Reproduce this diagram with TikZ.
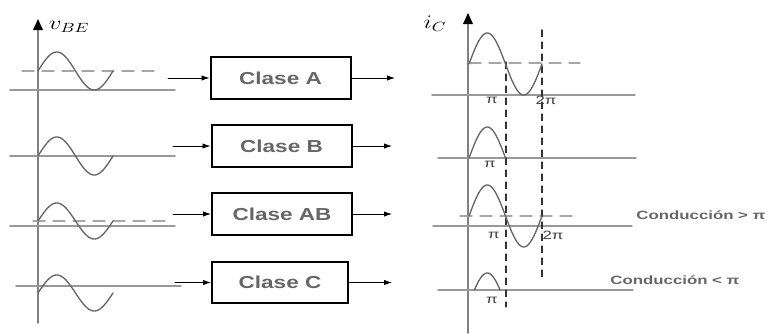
\documentclass[tikz,border=0pt]{standalone}
\usepackage{fontspec}
\setmainfont{Liberation Sans}
\newfontfamily\clasefont[FakeStretch=1.3]{Liberation Sans Bold}
\newfontfamily\condfont[FakeStretch=1.4]{Liberation Sans Bold}
\newfontfamily\pifont[FakeStretch=1.4]{Liberation Sans}
\usetikzlibrary{arrows.meta}
\tikzset{
	clase/.style={draw=black,line width=1.5pt,minimum width=105pt,minimum height=31pt,inner sep=0pt,font=\clasefont\fontsize{13}{15}\selectfont,text=black!60},
	eje/.style={draw=black!50,line width=1.1pt},
	linea/.style={draw=black!40,line width=1.1pt},
	seno/.style={draw=black!60,line width=1pt,smooth,samples=60,variable=\x},
	nivel/.style={draw=black!35,line width=1pt,dash pattern=on 9pt off 6pt},
	marca/.style={draw=black!80,line width=0.9pt,dash pattern=on 5pt off 4pt},
	flecha/.style={draw=black,line width=0.6pt,-{Latex[length=6pt,width=4pt]}},
	punta/.style={fill=black},
	pilab/.style={font=\pifont\fontsize{9}{10}\selectfont,text=black!75,inner sep=0pt},
	cond/.style={font=\condfont\fontsize{9}{10}\selectfont,text=black!60,inner sep=0pt}
}
\begin{document}
\begin{tikzpicture}[line cap=round,>=stealth,x=0.75pt,y=-0.75pt]
	\useasboundingbox (0,0) rectangle (767,333);
	% entrada v_BE
	\coordinate (e0) at (38,323);
	\coordinate (e1) at (38,28);
	\draw[eje] (e0) -- (e1);
	\fill[punta] (38,19) -- (33,30) -- (43,30) -- cycle;
	\node (vbe) at (69,27) {\scalebox{1.3}[1]{\fontsize{14}{16}\selectfont$v_{BE}$}};
	\draw[linea] (10,90)--(175,90) (10,156)--(175,156) (10,226)--(175,226) (16,286)--(181,286);
	\draw[nivel] (22,71)--(160,71) (33,221)--(165,221);
	\draw[seno,domain=38:113] plot (\x,{71-19*sin(4.8*(\x-38))});
	\draw[seno,domain=38:113] plot (\x,{156-19*sin(4.8*(\x-38))});
	\draw[seno,domain=38:113] plot (\x,{221-18*sin(4.8*(\x-38))});
	\draw[seno,domain=38:113] plot (\x,{293-18*sin(4.8*(\x-38))});
	% amplificadores
	\node[clase] (cA) at (280.5,78) {Clase A};
	\node[clase] (cB) at (281.5,146) {Clase B};
	\node[clase] (cAB) at (282,214) {Clase AB};
	\node[clase,minimum width=102pt] (cC) at (280,282.5) {Clase C};
	\coordinate (iA) at (168,78);
	\coordinate (iB) at (173,146);
	\coordinate (iAB) at (173,214);
	\coordinate (iC) at (175,282.5);
	\coordinate (oA) at (395,78);
	\coordinate (oB) at (392,146);
	\coordinate (oAB) at (392,214);
	\coordinate (oC) at (392,282.5);
	\draw[flecha] (iA) -- (cA.west);
	\draw[flecha] (iB) -- (cB.west);
	\draw[flecha] (iAB) -- (cAB.west);
	\draw[flecha] (iC) -- (cC.west);
	\draw[flecha] (cA.east) -- (oA);
	\draw[flecha] (cB.east) -- (oB);
	\draw[flecha] (cAB.east) -- (oAB);
	\draw[flecha] (cC.east) -- (oC);
	% salida i_C
	\coordinate (s0) at (468,333);
	\coordinate (s1) at (468,22);
	\draw[eje] (s0) -- (s1);
	\fill[punta] (468,13) -- (463,24) -- (473,24) -- cycle;
	\node (ic) at (435,24) {\scalebox{1.3}[1]{\fontsize{14}{16}\selectfont$i_{C}$}};
	\draw[linea] (432,95)--(635,95) (438,158)--(636,158) (433,226)--(632,226) (438,290)--(633,290);
	\draw[nivel] (469,63)--(580,63) (460,216)--(572,216);
	\draw[marca] (506,62)--(506,307) (542,30)--(542,277);
	\draw[seno,domain=469:542] plot (\x,{64-31*sin(4.9315*(\x-469))});
	\draw[seno,domain=469:505.5] plot (\x,{158-31*sin(4.9315*(\x-469))});
	\draw[seno,domain=469:542] plot (\x,{216-31*sin(4.9315*(\x-469))});
	\draw[seno,domain=474.4:500.1] plot (\x,{304-31*sin(4.9315*(\x-469))});
	\node[pilab] (p1) at (492,100) {π};
	\node[pilab] (q1) at (546,100) {2π};
	\node[pilab] (p2) at (490,164) {π};
	\node[pilab] (p3) at (494,235) {π};
	\node[pilab] (q3) at (553,235) {2π};
	\node[pilab] (p4) at (492,300) {π};
	\node[cond] (gt) at (701,215) {Conducción > π};
	\node[cond] (lt) at (675,280) {Conducción < π};
\end{tikzpicture}
\end{document}
